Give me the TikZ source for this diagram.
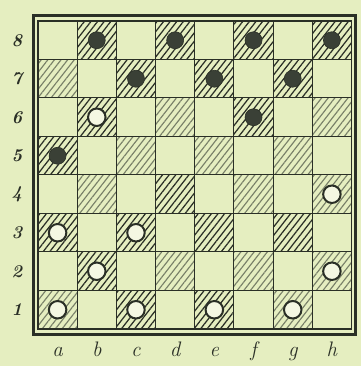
\documentclass[tikz,border=0pt]{standalone}
\usepackage{fontspec}
\setmainfont{Latin Modern Roman}
\usetikzlibrary{patterns.meta}
\definecolor{bg}{RGB}{229,238,192}
\definecolor{ink}{RGB}{42,47,38}
\definecolor{lightink}{RGB}{120,128,104}
\definecolor{blackpiece}{RGB}{58,64,54}
\definecolor{whitepiece}{RGB}{244,247,226}
\newcommand{\rankfont}{\fontsize{18pt}{20pt}\selectfont\bfseries\itshape}
\newcommand{\filefont}{\fontsize{21pt}{24pt}\selectfont\itshape}
\tikzset{
  darkhatch/.style={pattern={Lines[angle=52,distance=5.2pt,line width=1.25pt]}, pattern color=ink},
  lighthatch/.style={pattern={Lines[angle=52,distance=5.2pt,line width=1.15pt]}, pattern color=lightink},
  gridline/.style={draw=ink, line width=1pt},
  blackman/.style={circle, fill=blackpiece, draw=ink, line width=0.6pt, minimum size=17pt, inner sep=0pt},
  whiteman/.style={circle, fill=whitepiece, draw=ink, line width=2pt, minimum size=17.5pt, inner sep=0pt},
  ranklabel/.style={text=ink, inner sep=0pt},
  filelabel/.style={text=ink, inner sep=0pt, anchor=base}
}
\begin{document}
\begin{tikzpicture}[x=1pt,y=1pt]
\fill[bg] (0,0) rectangle (361,366);
\useasboundingbox (0,0) rectangle (361,366);
% outer frame
\draw[ink, line width=3pt] (33,31.5) rectangle (355.5,350.5);
\begin{scope}[shift={(38pt,37pt)}, x=39.1875pt, y=38.5pt]
  % hatched dark squares
  \foreach \c/\r in {2/8,4/8,6/8,8/8,3/7,5/7,7/7,2/6,6/6,1/5,4/4,1/3,3/3,5/3,7/3,2/2,3/1,5/1}
    \fill[darkhatch] (\c-1,\r-1) rectangle (\c,\r);
  \foreach \c/\r in {1/7,4/6,8/6,3/5,5/5,7/5,2/4,6/4,8/4,4/2,6/2,8/2,1/1,7/1}
    \fill[lighthatch] (\c-1,\r-1) rectangle (\c,\r);
  % grid
  \foreach \i in {1,...,7} {
    \draw[gridline] (\i,0) -- (\i,8);
    \draw[gridline] (0,\i) -- (8,\i);
  }
  \draw[ink, line width=1.5pt] (0,0) rectangle (8,8);
  % black men
  \foreach \n/\c/\r in {b8/2/8,d8/4/8,f8/6/8,h8/8/8,c7/3/7,e7/5/7,g7/7/7,f6/6/6,a5/1/5}
    \node[blackman] (p\n) at (\c-0.5,\r-0.5) {};
  % white men
  \foreach \n/\c/\r in {b6/2/6,h4/8/4,a3/1/3,c3/3/3,b2/2/2,h2/8/2,a1/1/1,c1/3/1,e1/5/1,g1/7/1}
    \node[whiteman] (p\n) at (\c-0.5,\r-0.5) {};
\end{scope}
% rank labels
\foreach \r in {1,...,8}
  \node[ranklabel] (rank\r) at (17, {37+(\r-0.5)*38.5}) {\rankfont \r};
% file labels
\foreach \f [count=\i] in {a,b,c,d,e,f,g,h}
  \node[filelabel] (file\f) at ({38+(\i-0.5)*39.1875}, 9.5) {\filefont \f};
\end{tikzpicture}
\end{document}
